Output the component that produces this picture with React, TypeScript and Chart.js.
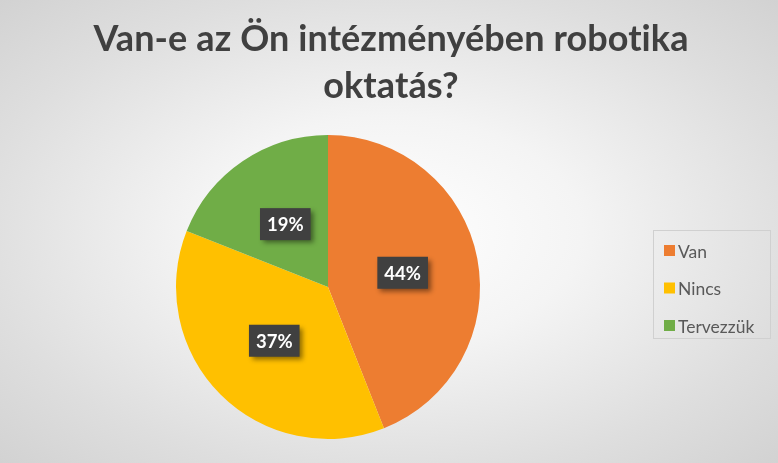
import React, { useEffect, useRef } from "react";
import { Chart, registerables } from "chart.js";

Chart.register(...registerables);

const categories = ["Van", "Nincs", "Tervezzük"];
const shares = [44, 37, 19];
const sliceColors = ["#ED7D31", "#FFC000", "#70AD47"];
const titleLines = ["Van-e az Ön intézményében robotika", "oktatás?"];

const FONT = "Lato, 'Open Sans', sans-serif";

// Title, legend and value badges are painted by this plugin.
const decorPlugin = {
  id: "decor",
  afterDatasetsDraw(chart: any) {
    const ctx: CanvasRenderingContext2D = chart.ctx;
    const meta = chart.getDatasetMeta(0);
    const data = chart.data.datasets[0].data as number[];

    // value badges
    meta.data.forEach((arc: any, i: number) => {
      const p = arc.getCenterPoint();
      const text = `${data[i]}%`;
      ctx.save();
      ctx.font = `bold 18.5px ${FONT}`;
      const tw = ctx.measureText(text).width;
      const w = tw + 14;
      const h = 32;
      const x = p.x - w / 2;
      const y = p.y - h / 2;
      ctx.shadowColor = "rgba(0,0,0,0.45)";
      ctx.shadowBlur = 5;
      ctx.shadowOffsetX = 3;
      ctx.shadowOffsetY = 3;
      ctx.fillStyle = "#404040";
      ctx.fillRect(x, y, w, h);
      ctx.shadowColor = "transparent";
      ctx.fillStyle = "#ffffff";
      ctx.textAlign = "center";
      ctx.textBaseline = "middle";
      ctx.fillText(text, p.x, p.y + 1);
      ctx.restore();
    });
  },
  afterDraw(chart: any) {
    const ctx: CanvasRenderingContext2D = chart.ctx;
    const labels = chart.data.labels as string[];
    const colors = chart.data.datasets[0].backgroundColor as string[];

    // title (slight tracking keeps "ti" from joining into a ligature)
    ctx.save();
    ctx.fillStyle = "#404040";
    ctx.textAlign = "center";
    ctx.textBaseline = "alphabetic";
    ctx.font = `bold 36px ${FONT}`;
    (ctx as any).letterSpacing = "0.1px";
    titleLines.forEach((line, i) => {
      ctx.fillText(line, chart.width / 2 + 2, 51 + i * 47);
    });
    ctx.restore();

    // legend
    ctx.save();
    ctx.strokeStyle = "#d0d0d0";
    ctx.lineWidth = 1;
    ctx.strokeRect(653.5, 230.5, 117, 108);
    ctx.font = `17.5px ${FONT}`;
    ctx.textBaseline = "middle";
    ctx.textAlign = "left";
    labels.forEach((lab, i) => {
      const cy = 251 + i * 37.5;
      ctx.fillStyle = colors[i];
      ctx.fillRect(664, cy - 6, 11, 11);
      ctx.fillStyle = "#595959";
      ctx.fillText(lab, 678, cy + 1);
    });
    ctx.restore();
  },
};

export default function App() {
  const ref = useRef<HTMLCanvasElement>(null);

  useEffect(() => {
    if (!ref.current) return;
    const chart = new Chart(ref.current, {
      type: "pie",
      data: {
        labels: categories,
        datasets: [
          {
            data: shares,
            backgroundColor: sliceColors,
            borderWidth: 0,
          },
        ],
      },
      options: {
        responsive: false,
        animation: false,
        layout: { padding: { left: 176, right: 298, top: 135, bottom: 24 } },
        plugins: {
          legend: { display: false },
          title: { display: false },
          tooltip: { enabled: false },
        },
      },
      plugins: [decorPlugin],
    });
    return () => chart.destroy();
  }, []);

  return (
    <div
      style={{
        position: "absolute",
        left: 0,
        top: 0,
        width: 778,
        height: 463,
        background:
          "radial-gradient(ellipse at 50% 50%, #ffffff 0%, #f4f4f4 35%, #dedede 75%, #d2d2d2 100%)",
      }}
    >
      <canvas ref={ref} width={778} height={463} />
    </div>
  );
}
